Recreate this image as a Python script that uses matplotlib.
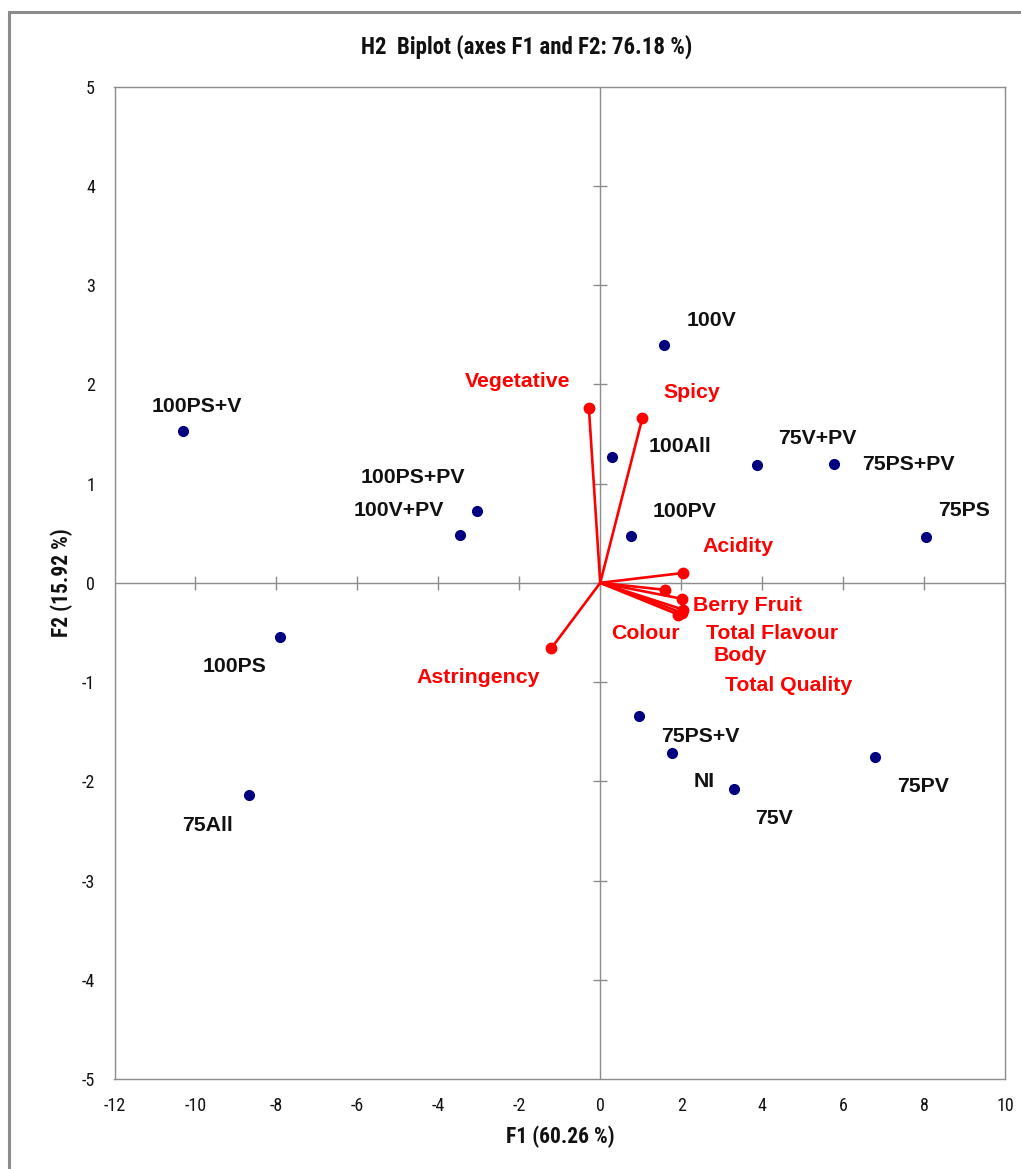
import matplotlib
matplotlib.use("Agg")
import matplotlib.pyplot as plt
from matplotlib import font_manager
from matplotlib.patches import Rectangle

plt.rcParams["axes.unicode_minus"] = False

# Observations (F1, F2 scores)
obs_names = ["100PS+V", "100PS+PV", "100V+PV", "100V", "100All", "100PV",
             "75V+PV", "75PS+PV", "75PS", "100PS", "75All",
             "75PS+V", "NI", "75V", "75PV"]
obs_f1 = [-10.31, -3.04, -3.46, 1.58, 0.28, 0.75,
          3.87, 5.77, 8.05, -7.91, -8.67,
          0.95, 1.78, 3.30, 6.78]
obs_f2 = [1.53, 0.72, 0.48, 2.40, 1.27, 0.47,
          1.19, 1.20, 0.46, -0.55, -2.14,
          -1.34, -1.71, -2.08, -1.76]

# Sensory variables (loadings on F1, F2)
var_names = ["Vegetative", "Spicy", "Acidity", "Colour", "Berry Fruit",
             "Total Flavour", "Body", "Total Quality", "Astringency"]
var_f1 = [-0.28, 1.04, 2.05, 1.59, 2.01, 2.05, 2.01, 1.93, -1.21]
var_f2 = [1.76, 1.66, 0.10, -0.07, -0.16, -0.27, -0.30, -0.32, -0.66]

x_ticks = list(range(-12, 11, 2))
y_ticks = list(range(-5, 6, 1))

# Label placement offsets (pixels) relative to each mark
obs_offsets = [(14, 25), (-64, 34), (-61, 25), (47, 24), (68, 10), (54, 25),
               (60, 26), (75, -1), (38, 27), (-45, -29), (-42, -30),
               (62, -21), (32, -29), (40, -29), (48, -29)]
var_offsets = [(-71, 27), (49, 26), (55, 26), (-19, -44), (66, -7),
               (89, -24), (59, -43), (110, -71), (-73, -29)]


def pick_font(candidates):
    for name in candidates:
        try:
            font_manager.findfont(font_manager.FontProperties(family=name),
                                  fallback_to_default=False)
            return name
        except Exception:
            continue
    return "DejaVu Sans"


narrow = pick_font(["Liberation Sans Narrow", "Roboto Condensed", "Liberation Sans"])
arial = pick_font(["Liberation Sans", "Arial", "DejaVu Sans"])

W, H = 1021, 1169
fig = plt.figure(figsize=(W / 100, H / 100), dpi=100)
fig.patch.set_facecolor("white")

# Outer chart border
fig.patches.append(Rectangle((8.5 / W, -0.05), 1.2, 1 - 11.5 / H + 0.05,
                             transform=fig.transFigure, fill=False,
                             edgecolor="#8c8c8c", linewidth=2.2))

left, right, top, bottom = 114.5, 1005, 86.7, 1079
ax = fig.add_axes([left / W, 1 - bottom / H, (right - left) / W, (bottom - top) / H])
ax.set_xlim(-12, 10)
ax.set_ylim(-5, 5)

for s in ax.spines.values():
    s.set_color("#8c8c8c")
    s.set_linewidth(1.0)

ax.set_xticks(x_ticks)
ax.set_yticks(y_ticks)
ax.tick_params(length=0, pad=13, labelsize=13, labelcolor="#111111")
ax.tick_params(axis="y", pad=14)
for lab in ax.get_xticklabels() + ax.get_yticklabels():
    lab.set_fontfamily(narrow)

# Central axes with crossing tick marks
ax.axhline(0, color="#8c8c8c", lw=1.0, zorder=1)
ax.axvline(0, color="#8c8c8c", lw=1.0, zorder=1)
inner_x = [t for t in x_ticks if t not in (x_ticks[0], x_ticks[-1])]
inner_y = [t for t in y_ticks if t not in (y_ticks[0], y_ticks[-1])]
ax.plot(inner_x, [0] * len(inner_x), ls="none", marker="|", ms=10,
        mew=1.0, color="#8c8c8c", zorder=1)
ax.plot([0] * len(inner_y), inner_y, ls="none", marker="_", ms=10,
        mew=1.0, color="#8c8c8c", zorder=1)

# Variable vectors
for vx, vy in zip(var_f1, var_f2):
    ax.plot([0, vx], [0, vy], color="#ff0000", lw=1.9, zorder=3,
            solid_capstyle="round")
ax.plot(var_f1, var_f2, ls="none", marker="o", ms=7.5, color="#ff0000",
        mec="#ff0000", zorder=4)

for name, vx, vy, off in zip(var_names, var_f1, var_f2, var_offsets):
    ax.annotate(name, (vx, vy), xytext=off, textcoords="offset pixels",
                ha="center", va="center", color="#ff0000", fontsize=15.3,
                fontweight="bold", fontfamily=arial, zorder=5)

# Observations
ax.plot(obs_f1, obs_f2, ls="none", marker="o", ms=7, color="#000080",
        mec="#000080", zorder=4)
for name, ox, oy, off in zip(obs_names, obs_f1, obs_f2, obs_offsets):
    ax.annotate(name, (ox, oy), xytext=off, textcoords="offset pixels",
                ha="center", va="center", color="#111111", fontsize=15.3,
                fontweight="bold", fontfamily=arial, zorder=5)

fig.text(527 / W, 1 - 47 / H, "H2  Biplot (axes F1 and F2: 76.18 %)",
         ha="center", va="center", fontsize=16.5, fontweight="bold",
         fontfamily=narrow, color="#111111")
fig.text(560 / W, 1 - 1137 / H, "F1 (60.26 %)", ha="center", va="center",
         fontsize=15.5, fontweight="bold", fontfamily=narrow, color="#111111")
fig.text(62 / W, 1 - 583 / H, "F2 (15.92 %)", ha="center", va="center",
         rotation=90, fontsize=15.5, fontweight="bold", fontfamily=narrow,
         color="#111111")

fig.savefig("out.png", dpi=100, facecolor="white")
